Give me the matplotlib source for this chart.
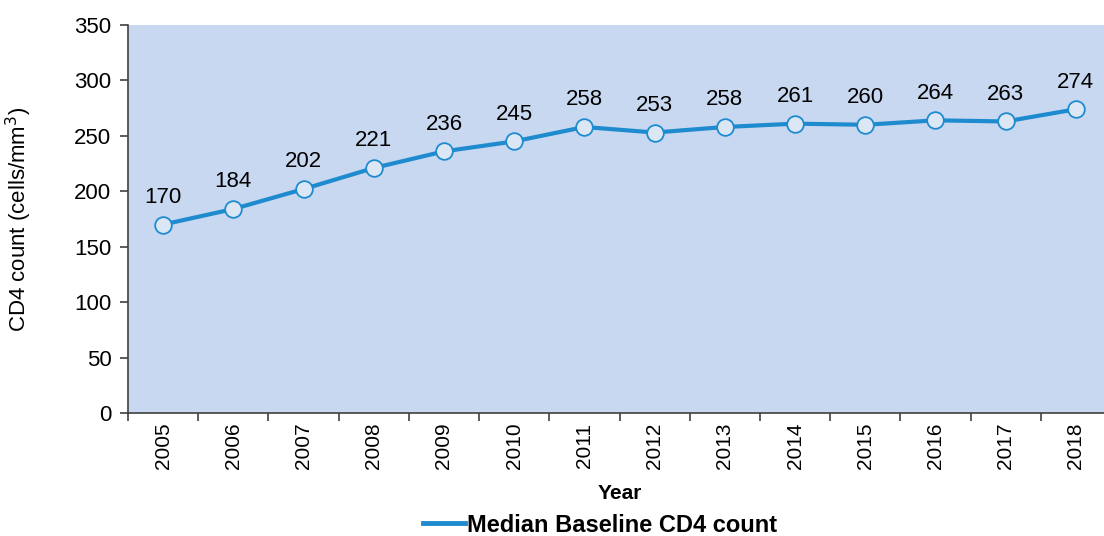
import matplotlib
matplotlib.use("Agg")
import matplotlib.pyplot as plt
from matplotlib.lines import Line2D
import numpy as np

plt.rcParams['font.family'] = ['Liberation Sans', 'DejaVu Sans']

years = ['2005', '2006', '2007', '2008', '2009', '2010', '2011',
         '2012', '2013', '2014', '2015', '2016', '2017', '2018']
median_cd4 = [170, 184, 202, 221, 236, 245, 258, 253, 258, 261, 260, 264, 263, 274]

line_col = '#1f8bcf'
bg_col = '#c8d8f0'
spine_col = '#404040'

W, H = 1104, 536
fig = plt.figure(figsize=(W / 100, H / 100), dpi=100)
# plot area runs a little past the right edge of the picture, as in the reference
ax = fig.add_axes([128 / W, 1 - 413 / H, (1111 - 128) / W, (413 - 25) / H])
ax.set_facecolor(bg_col)

x = np.arange(len(years))
ax.plot(x, median_cd4, color=line_col, lw=3, marker='o', ms=12,
        mfc='#dce7f6', mec=line_col, mew=1.3, zorder=3)

for xi, v in zip(x, median_cd4):
    ax.annotate(str(v), (xi, v), xytext=(0, 12), textcoords='offset points',
                ha='center', va='bottom', fontsize=16)

ax.set_xlim(-0.5, len(years) - 0.5)
ax.set_ylim(0, 350)
ax.set_yticks(range(0, 351, 50))
ax.set_xticks(x)
ax.set_xticklabels(years, rotation=90, fontsize=15)
ax.set_xticks(np.arange(-0.5, len(years), 1), minor=True)
ax.tick_params(axis='x', which='major', length=0, pad=7)
ax.tick_params(axis='x', which='minor', length=6, color=spine_col, width=1.2, direction='out')
ax.tick_params(axis='y', labelsize=16, length=6, color=spine_col, width=1.2, direction='out', pad=6)

for s in ['top', 'right']:
    ax.spines[s].set_visible(False)
for s in ['left', 'bottom']:
    ax.spines[s].set_color(spine_col)
    ax.spines[s].set_linewidth(1.2)

ax.set_ylabel('CD4 count (cells/mm$^3$)', fontsize=16)
ax.yaxis.set_label_coords((34 - 128) / (1111 - 128), 0.5)
ax.set_xlabel('Year', fontsize=15, fontweight='bold')
ax.xaxis.set_label_coords((620 - 128) / (1111 - 128), -(484 - 413) / (413 - 25))

handle = Line2D([], [], color=line_col, lw=3.5)
fig.legend([handle], ['Median Baseline CD4 count'], loc='center',
           bbox_to_anchor=(600 / W, 1 - 525 / H), frameon=False,
           prop={'size': 17, 'weight': 'bold'}, handlelength=1.8, handletextpad=0.1)

fig.savefig('out.png', dpi=100)
